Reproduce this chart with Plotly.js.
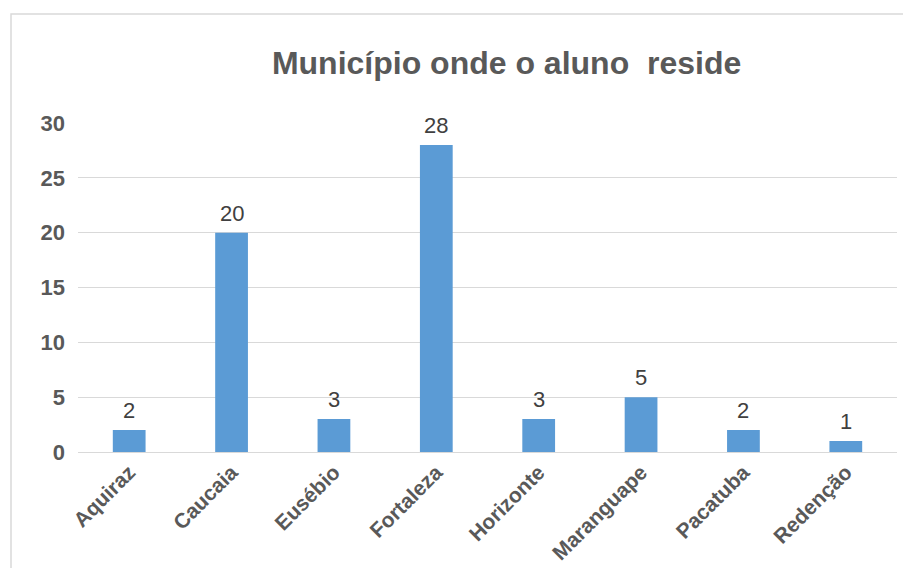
<!DOCTYPE html>
<html>
<head>
<meta charset="utf-8">
<script src="https://cdn.plot.ly/plotly-3.0.1.min.js"></script>
<style>html,body{margin:0;padding:0;background:#fff;}#chart{width:903px;height:568px;}</style>
</head>
<body>
<div id="chart"></div>
<script>
const categories = ["Aquiraz", "Caucaia", "Eusébio", "Fortaleza", "Horizonte", "Maranguape", "Pacatuba", "Redenção"];
const values = [2, 20, 3, 28, 3, 5, 2, 1];
const yTicks = [0, 5, 10, 15, 20, 25, 30];

const trace = {
  type: "bar",
  x: categories,
  y: values,
  width: 0.32,
  marker: {color: "#5B9BD5"},
  hoverinfo: "x+y"
};

const annotations = categories.map((c, i) => ({
  x: c, y: values[i], xref: "x", yref: "y",
  text: String(values[i]), showarrow: false,
  yanchor: "bottom", yshift: 5,
  font: {family: "Arial, 'Liberation Sans', sans-serif", size: 22, color: "#404040"}
}));

const layout = {
  width: 903, height: 568,
  margin: {l: 78, r: 6, t: 123, b: 116},
  paper_bgcolor: "#ffffff", plot_bgcolor: "#ffffff",
  title: {
    text: "Município onde o aluno  reside",
    x: 0.561, xref: "container", xanchor: "center",
    y: 0.889, yref: "container", yanchor: "middle",
    font: {family: "Arial, 'Liberation Sans', sans-serif", size: 32, color: "#595959", weight: "bold"}
  },
  xaxis: {
    tickangle: -45,
    tickfont: {family: "Arial, 'Liberation Sans', sans-serif", size: 21, color: "#595959", weight: "bold"},
    showgrid: false, zeroline: false, showline: false, ticks: "", ticklabelstandoff: 3
  },
  yaxis: {
    range: [0, 30],
    tickvals: yTicks,
    ticktext: yTicks.map(String),
    tickfont: {family: "Arial, 'Liberation Sans', sans-serif", size: 22, color: "#595959", weight: "bold"},
    gridcolor: "#d9d9d9", gridwidth: 1,
    zeroline: true, zerolinecolor: "#d9d9d9", zerolinewidth: 1,
    showline: false, ticks: "", ticklabelstandoff: 12
  },
  annotations: annotations,
  shapes: [{
    type: "rect", xref: "paper", yref: "paper",
    x0: -0.0818, x1: 1.03, y0: -0.40, y1: 1.331,
    line: {color: "#d9d9d9", width: 1.5}, fillcolor: "rgba(0,0,0,0)", layer: "below"
  }],
  showlegend: false,
  bargap: 0.68
};

Plotly.newPlot("chart", [trace], layout, {displayModeBar: false, staticPlot: true});
</script>
</body>
</html>
